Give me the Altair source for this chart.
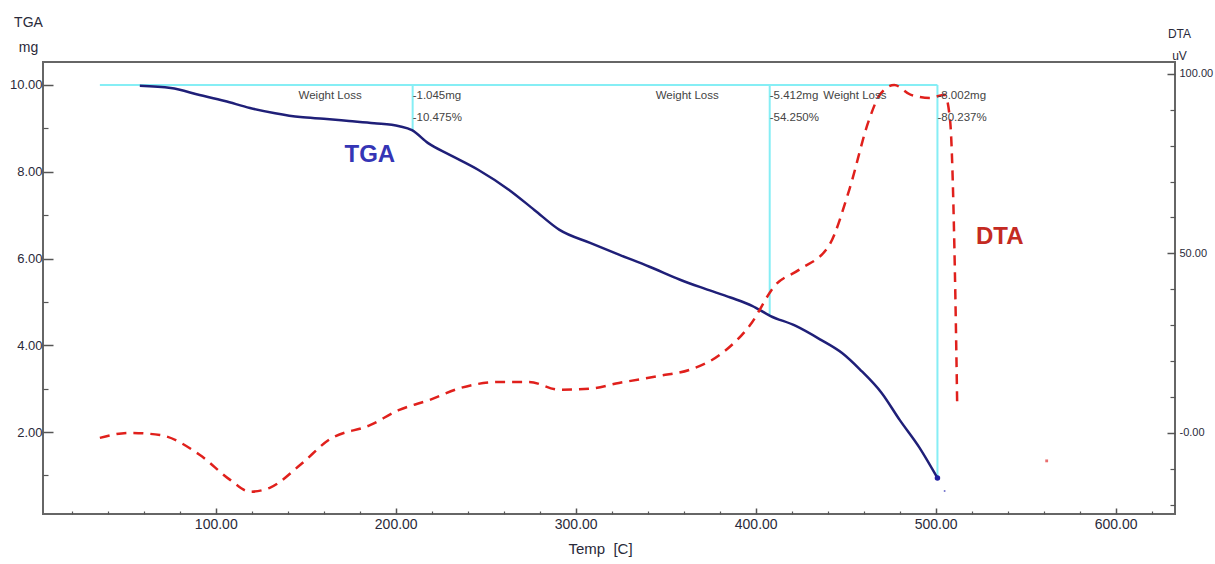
import altair as alt
import pandas as pd

# ---- data ----
tga_temp = [57.8, 75, 91, 105, 119, 133, 147, 160, 174, 188, 202, 209, 218, 230, 246, 263, 277,
            291, 308, 324, 341, 358, 372, 386, 398, 408, 422, 436, 448, 458, 470, 480, 491, 501]
tga_mass = [9.98, 9.93, 9.77, 9.63, 9.47, 9.35, 9.26, 9.22, 9.17, 9.12, 9.05, 8.96, 8.66, 8.39, 8.04,
            7.58, 7.12, 6.66, 6.36, 6.09, 5.81, 5.51, 5.30, 5.10, 4.91, 4.68, 4.45, 4.13, 3.82, 3.44,
            2.90, 2.28, 1.64, 0.94]

dta_temp = [35.6, 52, 69, 91, 108, 119, 130, 147, 163, 186, 202, 219, 236, 258, 274, 291, 308, 324,
            347, 363, 380, 397, 411, 424, 441, 452, 463, 469, 477, 486, 497, 505, 508, 511, 512]
dta_uv = [-1.4, 0.0, -0.6, -6.1, -13.1, -16.4, -15.3, -8.9, -1.9, 2.2, 6.4, 9.2, 12.5, 14.2, 14.2,
          12.0, 12.3, 13.9, 15.9, 17.5, 21.7, 30.1, 41.2, 45.4, 52.4, 67.7, 87.2, 94.2, 96.9, 94.2,
          93.3, 94.2, 87.2, 37.0, 7.0]

# stray single samples visible in the reference
tga_stray_temp = [505.0]
tga_stray_mass = [0.64]
dta_stray_temp = [561.7]
dta_stray_uv = [-7.8]

step_temp = [209.4, 407.8, 501.0]
step_mass = [8.96, 4.68, 0.94]
step_loss_mg = ["-1.045mg", "-5.412mg", "-8.002mg"]
step_loss_pct = ["-10.475%", "-54.250%", "-80.237%"]
baseline_start = 35.6
baseline_mass = 10.0

x_ticks = [100, 200, 300, 400, 500, 600]
x_minor = [v for v in range(20, 640, 20) if v % 100]
left_ticks = [2, 4, 6, 8, 10]
left_minor = [1, 3, 5, 7, 9]
right_ticks = [0, 50, 100]
right_minor = [-20, -10, 10, 20, 30, 40, 60, 70, 80, 90]

X_DOM = [4, 633]
L_DOM = [0.11, 10.53]
R_DOM = [-22.6, 103.3]

FONT = "Liberation Sans Narrow, Liberation Sans, Arial"
LBL = "#2a2a3a"

tga = pd.DataFrame({"t": tga_temp, "m": tga_mass})
dta = pd.DataFrame({"t": dta_temp, "v": dta_uv})
tga_stray = pd.DataFrame({"t": tga_stray_temp, "m": tga_stray_mass})
dta_stray = pd.DataFrame({"t": dta_stray_temp, "v": dta_stray_uv})
steps = pd.DataFrame({"t": step_temp, "m": step_mass, "mg": step_loss_mg, "pct": step_loss_pct,
                      "top": [baseline_mass] * 3, "wl": ["Weight Loss"] * 3})
base = pd.DataFrame({"t": [baseline_start], "t2": [step_temp[-1]], "m": [baseline_mass]})

def xs(axis=None):
    return alt.X("t:Q", scale=alt.Scale(domain=X_DOM, nice=False, zero=False), axis=axis)

def yl(field="m", axis=None):
    return alt.Y(f"{field}:Q", scale=alt.Scale(domain=L_DOM, nice=False, zero=False), axis=axis)

def yr(field="v", axis=None):
    return alt.Y(f"{field}:Q", scale=alt.Scale(domain=R_DOM, nice=False, zero=False), axis=axis)

common_axis = dict(grid=False, domain=False, labelFont=FONT, labelColor=LBL, tickColor="#555",
                   titleFont=FONT, titleColor=LBL, titleFontWeight="normal")

x_axis = alt.Axis(orient="bottom", values=x_ticks, format=".2f", tickSize=6, offset=-6, tickWidth=1.5,
                  labelPadding=3, labelFontSize=14, title="Temp\u00a0\u00a0[C]", titleFontSize=15,
                  titleX=557, titleY=40, titleAlign="center", titleBaseline="middle", **common_axis)
x_minor_axis = alt.Axis(orient="bottom", values=x_minor, labels=False, tickSize=3, offset=-3,
                        tickWidth=1.2, title=None, **common_axis)
l_axis = alt.Axis(orient="left", values=left_ticks, format=".2f", tickSize=10, offset=-10, tickWidth=1.5,
                  labelPadding=1, labelFontSize=13, title=["TGA", "mg"], titleAngle=0, titleFontSize=14,
                  titleLineHeight=25, titleAlign="center", titleBaseline="top", titleX=-25, titleY=-47,
                  **common_axis)
l_minor_axis = alt.Axis(orient="left", values=left_minor, labels=False, tickSize=5, offset=-5,
                        tickWidth=1.2, title=None, **common_axis)
r_axis = alt.Axis(orient="right", values=right_ticks, tickSize=8, offset=-8, tickWidth=1.5,
                  labelPadding=4, labelFontSize=11,
                  labelExpr="datum.value == 0 ? '-0.00' : format(datum.value, '.2f')",
                  title=["DTA", "uV"], titleAngle=0, titleFontSize=12, titleLineHeight=22,
                  titleAlign="center", titleBaseline="top", titleX=12, titleY=-34, **common_axis)
r_minor_axis = alt.Axis(orient="right", values=right_minor, labels=False, tickSize=5, offset=-5,
                        tickWidth=1.2, title=None, **common_axis)

CYAN = "#86eef5"

hline = alt.Chart(base).mark_rule(color=CYAN, strokeWidth=2).encode(
    x=xs(), x2="t2:Q", y=yl())
vlines = alt.Chart(steps).mark_rule(color=CYAN, strokeWidth=2).encode(
    x=xs(), y=yl("top"), y2="m:Q")

tga_line = alt.Chart(tga).mark_line(color="#1f1f78", strokeWidth=2.5, interpolate="monotone").encode(
    x=xs(x_axis), y=yl(axis=l_axis), order="t:Q")
tga_minor = alt.Chart(tga).mark_point(opacity=0).encode(
    x=xs(x_minor_axis), y=yl(axis=l_minor_axis))
tga_end = alt.Chart(tga.tail(1)).mark_point(filled=True, color="#2020a0", size=30, opacity=1).encode(
    x=xs(), y=yl())
tga_dot = alt.Chart(tga_stray).mark_point(filled=True, color="#5050c0", size=4, opacity=0.8).encode(
    x=xs(), y=yl())

dta_line = alt.Chart(dta).mark_line(color="#e0201c", strokeWidth=2.5, strokeDash=[10, 7],
                                    interpolate="monotone").encode(
    x=xs(), y=yr(axis=r_axis), order="t:Q")
dta_minor = alt.Chart(dta).mark_point(opacity=0).encode(
    x=xs(), y=yr(axis=r_minor_axis))
dta_dot = alt.Chart(dta_stray).mark_square(color="#e03030", size=8, opacity=0.7).encode(
    x=xs(), y=yr())

txt_style = dict(font=FONT, fontSize=11.5, color="#444")
wl_text = alt.Chart(steps).mark_text(align="right", baseline="middle", dx=-51, dy=11, **txt_style).encode(
    x=xs(), y=yl("top"), text="wl:N")
mg_text = alt.Chart(steps).mark_text(align="left", baseline="middle", dx=0, dy=11, **txt_style).encode(
    x=xs(), y=yl("top"), text="mg:N")
pct_text = alt.Chart(steps).mark_text(align="left", baseline="middle", dx=0, dy=33, **txt_style).encode(
    x=xs(), y=yl("top"), text="pct:N")

tga_lab = alt.Chart(pd.DataFrame({"t": [185.6], "m": [8.39], "s": ["TGA"]})).mark_text(
    font="Liberation Sans, Arial", fontSize=24, fontWeight="bold", color="#3535b5").encode(
    x=xs(), y=yl(), text="s:N")
dta_lab = alt.Chart(pd.DataFrame({"t": [535.6], "v": [54.6], "s": ["DTA"]})).mark_text(
    font="Liberation Sans, Arial", fontSize=24, fontWeight="bold", color="#c42a22").encode(
    x=xs(), y=yr(), text="s:N")

chart = alt.layer(
    hline, vlines, tga_minor, tga_line, tga_end, tga_dot, dta_minor, dta_line, dta_dot,
    wl_text, mg_text, pct_text, tga_lab, dta_lab
).resolve_scale(y="independent").resolve_axis(x="independent", y="independent").properties(
    width=1132, height=452,
    autosize=alt.AutoSizeParams(type="none"),
    padding={"left": 43, "top": 62, "right": 40, "bottom": 50},
    background="white",
).configure_view(stroke="#666", strokeWidth=2)

chart.save("out.html", embed_options={"renderer": "svg", "actions": False})
